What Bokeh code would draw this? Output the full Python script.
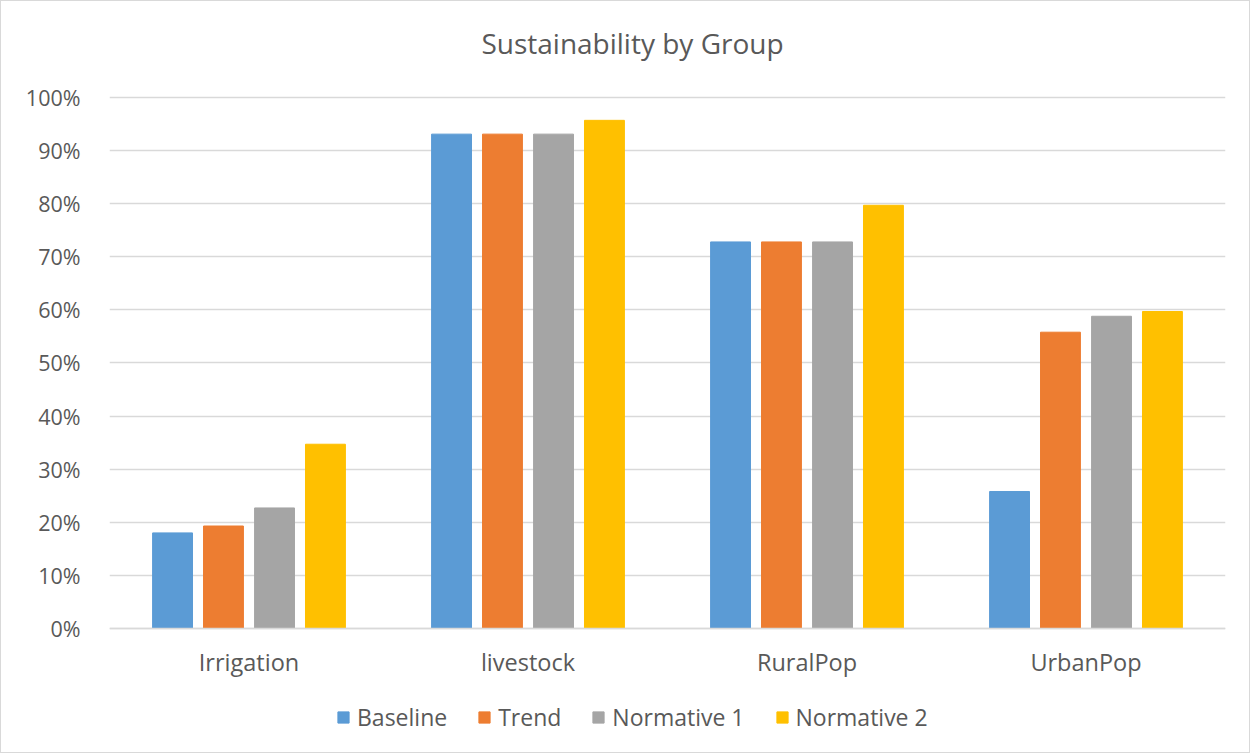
from bokeh.plotting import figure
from bokeh.models import ColumnDataSource, FactorRange, Range1d, Legend, LegendItem, NumeralTickFormatter, FixedTicker, Label
from bokeh.transform import dodge
from bokeh.embed import file_html
from bokeh.resources import INLINE

title_text = "Sustainability by Group"
categories = ["Irrigation", "livestock", "RuralPop", "UrbanPop"]
baseline = [0.180, 0.931, 0.728, 0.258]
trend = [0.193, 0.931, 0.728, 0.558]
normative1 = [0.227, 0.931, 0.728, 0.588]
normative2 = [0.347, 0.957, 0.797, 0.597]
y_ticks = [0.0, 0.1, 0.2, 0.3, 0.4, 0.5, 0.6, 0.7, 0.8, 0.9, 1.0]

series_names = ["Baseline", "Trend", "Normative 1", "Normative 2"]
series_keys = ["baseline", "trend", "normative1", "normative2"]
colors = ["#5B9BD5", "#ED7D31", "#A5A5A5", "#FFC000"]
offsets = [-0.274, -0.0915, 0.0915, 0.274]

source = ColumnDataSource(dict(cat=categories, baseline=baseline, trend=trend,
                               normative1=normative1, normative2=normative2))

FONT = "Open Sans"
TXT = "#595959"

p = figure(x_range=FactorRange(*categories, range_padding=0.0, factor_padding=0.0),
           y_range=Range1d(-0.2185, 1.1808),
           width=1250, height=753, output_backend="svg", toolbar_location=None,
           min_border_left=108, min_border_right=26, min_border_top=0, min_border_bottom=10)
p.styles = {"border": "1px solid #d9d9d9"}

renderers = []
for key, col, off in zip(series_keys, colors, offsets):
    r = p.vbar(x=dodge("cat", off, range=p.x_range), top=key, width=0.143, source=source,
               fill_color=col, line_color=col)
    renderers.append(r)

title = Label(x=2.0, y=1.102, x_offset=-35, text=title_text, text_align="center",
              text_baseline="middle", text_font=FONT, text_font_size="28px", text_color=TXT)
p.add_layout(title)

p.outline_line_color = None
p.xgrid.grid_line_color = None
p.ygrid.grid_line_color = "#d9d9d9"
p.ygrid.grid_line_width = 1.3
p.ygrid.ticker = FixedTicker(ticks=y_ticks)
p.yaxis.ticker = FixedTicker(ticks=y_ticks)
p.yaxis.formatter = NumeralTickFormatter(format="0%")
p.yaxis.axis_line_color = None
p.yaxis.major_tick_line_color = None
p.yaxis.minor_tick_line_color = None
p.yaxis.major_label_text_font = FONT
p.yaxis.major_label_text_font_size = "21.5px"
p.yaxis.major_label_text_color = TXT
p.yaxis.major_label_standoff = 23

p.xaxis.fixed_location = 0
p.xaxis.axis_line_color = "#d9d9d9"
p.xaxis.axis_line_width = 1.3
p.xaxis.major_tick_line_color = None
p.xaxis.minor_tick_line_color = None
p.xaxis.major_label_text_font = FONT
p.xaxis.major_label_text_font_size = "23.5px"
p.xaxis.major_label_text_color = TXT
p.xaxis.major_label_standoff = 12

legend = Legend(items=[LegendItem(label=n, renderers=[r]) for n, r in zip(series_names, renderers)],
                orientation="horizontal", location=(227, 11),
                label_text_font=FONT, label_text_font_size="23px", label_text_color=TXT,
                glyph_width=14, glyph_height=14, spacing=30, label_standoff=7,
                border_line_color=None, background_fill_alpha=0, margin=0, padding=0)
p.add_layout(legend, "center")

open("out.html", "w").write(file_html(p, INLINE))
